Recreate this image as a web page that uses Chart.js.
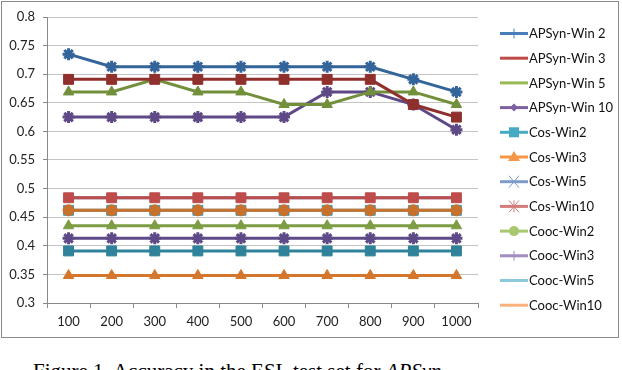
<!DOCTYPE html>
<html>
<head>
<meta charset="utf-8">
<script src="https://cdn.jsdelivr.net/npm/chart.js@4.4.1/dist/chart.umd.min.js"></script>
<style>
  html, body { margin: 0; padding: 0; background: #fff; }
  body { width: 622px; height: 370px; overflow: hidden; position: relative; }
  #frame { position: absolute; left: 1px; top: 1px; width: 616px; height: 335px; border: 1px solid #8a8a8a; }
  #chart { position: absolute; left: 0; top: 0; }
  #caption { position: absolute; left: 33px; top: 359px; font-family: "Liberation Serif", serif; font-size: 21px; color: #000; white-space: nowrap; }
</style>
</head>
<body>
<div id="frame"></div>
<canvas id="chart" width="622" height="345"></canvas>
<div id="caption">Figure 1. Accuracy in the ESL test set for <i>APSyn</i></div>
<script>
// window sizes along the x axis
const categories = ["100", "200", "300", "400", "500", "600", "700", "800", "900", "1000"];

// accuracy values
const apsynWin2  = [0.735, 0.713, 0.713, 0.713, 0.713, 0.713, 0.713, 0.713, 0.691, 0.669];
const apsynWin3  = [0.691, 0.691, 0.691, 0.691, 0.691, 0.691, 0.691, 0.691, 0.647, 0.625];
const apsynWin5  = [0.669, 0.669, 0.691, 0.669, 0.669, 0.647, 0.647, 0.669, 0.669, 0.647];
const apsynWin10 = [0.625, 0.625, 0.625, 0.625, 0.625, 0.625, 0.669, 0.669, 0.647, 0.603];
const cosWin2    = [0.391, 0.391, 0.391, 0.391, 0.391, 0.391, 0.391, 0.391, 0.391, 0.391];
const cosWin3    = [0.348, 0.348, 0.348, 0.348, 0.348, 0.348, 0.348, 0.348, 0.348, 0.348];
const cosWin5    = [0.484, 0.484, 0.484, 0.484, 0.484, 0.484, 0.484, 0.484, 0.484, 0.484];
const cosWin10   = [0.484, 0.484, 0.484, 0.484, 0.484, 0.484, 0.484, 0.484, 0.484, 0.484];
const coocWin2   = [0.435, 0.435, 0.435, 0.435, 0.435, 0.435, 0.435, 0.435, 0.435, 0.435];
const coocWin3   = [0.413, 0.413, 0.413, 0.413, 0.413, 0.413, 0.413, 0.413, 0.413, 0.413];
const coocWin5   = [0.462, 0.462, 0.462, 0.462, 0.462, 0.462, 0.462, 0.462, 0.462, 0.462];
const coocWin10  = [0.462, 0.462, 0.462, 0.462, 0.462, 0.462, 0.462, 0.462, 0.462, 0.462];

const seriesNames = ["APSyn-Win 2", "APSyn-Win 3", "APSyn-Win 5", "APSyn-Win 10",
  "Cos-Win2", "Cos-Win3", "Cos-Win5", "Cos-Win10",
  "Cooc-Win2", "Cooc-Win3", "Cooc-Win5", "Cooc-Win10"];
const yTicks = [0.3, 0.35, 0.4, 0.45, 0.5, 0.55, 0.6, 0.65, 0.7, 0.75, 0.8];

// styles (plot lines look darker than legend swatches)
const lineColors = ["#33649a", "#8f302d", "#72903b", "#5e4886",
  "#2f8299", "#d4762c", "#5b86c0", "#be4c4a",
  "#7d9c43", "#5f4a88", "#3d9ab5", "#c8712d"];
const markers = ["star", "rect", "triangle", "star",
  "rect", "triangle", "crossRot", "rect",
  "triangle", "star", "rect", "circle"];
const markerSize = [6, 7, 6, 6, 7, 6, 5, 7, 6, 6, 7, 5.5];
const drawOrder = [0, 0, 0, 0, 0, 0, 1, 0, 0, 0, 1, 0];
const legendColors = ["#4a7ebb", "#be4b48", "#98b954", "#7d60a0",
  "#46aac5", "#f79646", "#7c9bcb", "#d47c7a",
  "#a8c86f", "#a28cc0", "#8ccadb", "#fab27c"];
const legendMarkers = ["plus", null, null, "diamond", "square", "triangle",
  "x", "asterisk", "circle", "plus", null, null];

const allData = [apsynWin2, apsynWin3, apsynWin5, apsynWin10, cosWin2, cosWin3,
  cosWin5, cosWin10, coocWin2, coocWin3, coocWin5, coocWin10];

const datasets = allData.map((d, i) => ({
  label: seriesNames[i],
  data: d,
  order: drawOrder[i],
  borderColor: lineColors[i],
  backgroundColor: lineColors[i],
  pointBackgroundColor: lineColors[i],
  pointBorderColor: lineColors[i],
  borderWidth: 3,
  pointStyle: markers[i],
  pointRadius: markerSize[i],
  pointBorderWidth: markers[i] == "star" || markers[i] == "crossRot" ? 3 : 1,
  tension: 0
}));

function drawLegendMark(ctx, kind, x, y, color) {
  ctx.save();
  ctx.fillStyle = color;
  ctx.strokeStyle = color;
  ctx.lineWidth = 1;
  ctx.beginPath();
  if (kind == "plus") {
    ctx.moveTo(x, y - 5); ctx.lineTo(x, y + 5);
    ctx.stroke();
  } else if (kind == "diamond") {
    ctx.moveTo(x, y - 4); ctx.lineTo(x + 4, y); ctx.lineTo(x, y + 4); ctx.lineTo(x - 4, y);
    ctx.closePath(); ctx.fill();
  } else if (kind == "square") {
    ctx.fillRect(x - 5, y - 5, 10, 10);
  } else if (kind == "triangle") {
    ctx.moveTo(x, y - 6); ctx.lineTo(x + 6, y + 4); ctx.lineTo(x - 6, y + 4);
    ctx.closePath(); ctx.fill();
  } else if (kind == "circle") {
    ctx.arc(x, y, 5, 0, Math.PI * 2); ctx.fill();
  } else if (kind == "x" || kind == "asterisk") {
    ctx.moveTo(x - 5, y - 6); ctx.lineTo(x + 5, y + 6);
    ctx.moveTo(x + 5, y - 6); ctx.lineTo(x - 5, y + 6);
    if (kind == "asterisk") { ctx.moveTo(x, y - 6); ctx.lineTo(x, y + 6); }
    ctx.stroke();
  }
  ctx.restore();
}

const legendPlugin = {
  id: "sideLegend",
  afterDraw(chart) {
    const ctx = chart.ctx;
    ctx.save();
    ctx.font = "13px Lato";
    ctx.textBaseline = "middle";
    seriesNames.forEach((name, i) => {
      const y = 33.5 + i * 24.7;
      ctx.strokeStyle = legendColors[i];
      ctx.lineWidth = 3;
      ctx.beginPath();
      ctx.moveTo(500, y);
      ctx.lineTo(528, y);
      ctx.stroke();
      if (legendMarkers[i]) drawLegendMark(ctx, legendMarkers[i], 514, y, legendColors[i]);
      ctx.fillStyle = "#111";
      ctx.fillText(name, 529, y + 0.5);
    });
    ctx.restore();
  }
};

new Chart(document.getElementById("chart"), {
  type: "line",
  data: { labels: categories, datasets: datasets },
  plugins: [legendPlugin],
  options: {
    responsive: false,
    animation: false,
    layout: { padding: { left: 0, right: 144, top: 17, bottom: 0 } },
    plugins: { legend: { display: false }, tooltip: { enabled: false } },
    scales: {
      x: {
        offset: true,
        grid: { offset: true, drawOnChartArea: false, drawTicks: true, tickLength: 5, color: "#8a8a8a" },
        border: { color: "#8a8a8a" },
        ticks: { color: "#222", font: { family: "Lato", size: 13 }, padding: 6, maxRotation: 0 },
        afterFit(scale) { scale.height = 42; }
      },
      y: {
        min: 0.3,
        max: 0.8,
        afterBuildTicks(scale) { scale.ticks = yTicks.map(v => ({ value: v })); },
        grid: { color: "#c4c4c4", tickLength: 4, tickColor: "#8a8a8a" },
        border: { color: "#8a8a8a" },
        ticks: {
          color: "#222",
          font: { family: "Lato", size: 13 },
          padding: 8,
          callback: v => String(Number(v.toFixed(2)))
        },
        afterFit(scale) { scale.width = 47; }
      }
    }
  }
});
</script>
</body>
</html>
